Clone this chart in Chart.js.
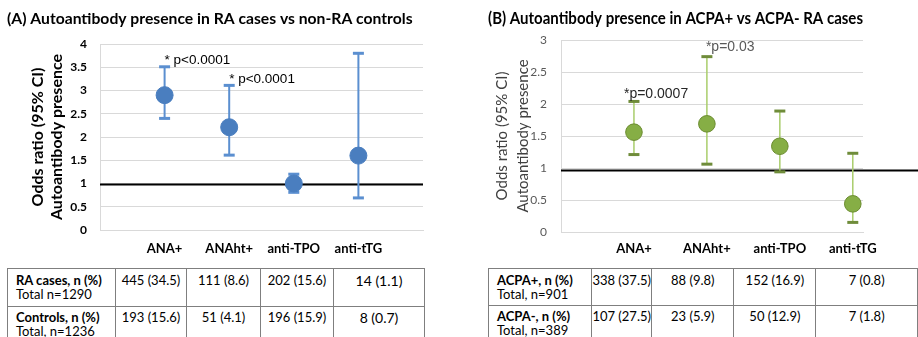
<!DOCTYPE html>
<html><head><meta charset="utf-8">
<script src="https://cdn.jsdelivr.net/npm/chart.js@4"></script>
<style>
html,body{margin:0;padding:0;width:918px;height:337px;overflow:hidden;background:#fff;}
#wa{position:absolute;left:0;top:0;width:460px;height:262px;}
#wb{position:absolute;left:460px;top:0;width:458px;height:262px;}
table{position:absolute;border-collapse:collapse;font-family:Lato,sans-serif;font-size:13px;color:#000;table-layout:fixed;}
td{border:1px solid #7f7f7f;vertical-align:top;padding:4px 0 0 0;line-height:14px;text-align:center;height:32px;white-space:nowrap;}
tr.r2 td{padding-top:3px;}
td.h{text-align:left;padding-left:8px;}
td.h b{font-weight:700;}
#ta{left:7px;top:268px;}
#tb{left:488px;top:268px;}
#ta td.big{font-size:14px;padding-top:5px;}
#ta tr.r2 td.big{padding-top:4px;}
</style></head><body>
<div id="wa"><canvas id="ca"></canvas></div>
<div id="wb"><canvas id="cb"></canvas></div>
<table id="ta"></table>
<table id="tb"></table>
<script>
// ---- data ----
const categories = ['ANA+', 'ANAht+', 'anti-TPO', 'anti-tTG'];

const titleA = '(A) Autoantibody presence in RA cases vs non-RA controls';
const orA   = [2.90, 2.21, 1.00, 1.60];
const lowA  = [2.40, 1.61, 0.81, 0.69];
const highA = [3.51, 3.11, 1.20, 3.80];
const pLabelsA = ['* p<0.0001', '* p<0.0001', '', ''];
const refLineA = 0.98;

const titleB = '(B) Autoantibody presence in ACPA+ vs ACPA- RA cases';
const orB   = [1.56, 1.69, 1.34, 0.44];
const lowB  = [1.21, 1.06, 0.94, 0.15];
const highB = [2.04, 2.74, 1.89, 1.23];
const pLabelsB = ['*p=0.0007', '*p=0.03', '', ''];
const refLineB = 0.96;

const yTitle = ['Odds ratio (95% CI)', 'Autoantibody presence'];

const tableAHeaders = [['RA cases, n (%)', 'Total n=1290'], ['Controls, n (%)', 'Total, n=1236']];
const tableARows = [['445 (34.5)', '111 (8.6)', '202 (15.6)', '14 (1.1)'],
                    ['193 (15.6)', '51 (4.1)', '196 (15.9)', '8 (0.7)']];
const tableBHeaders = [['ACPA+, n (%)', 'Total, n=901'], ['ACPA-, n (%)', 'Total, n=389']];
const tableBRows = [['338 (37.5)', '88 (9.8)', '152 (16.9)', '7 (0.8)'],
                    ['107 (27.5)', '23 (5.9)', '50 (12.9)', '7 (1.8)']];

// ---- tables ----
function buildTable(el, headers, rows, widths, bigLast) {
  const cg = document.createElement('colgroup');
  widths.forEach(w => { const c = document.createElement('col'); c.style.width = w + 'px'; cg.appendChild(c); });
  el.appendChild(cg);
  headers.forEach((h, r) => {
    const tr = document.createElement('tr');
    tr.className = 'r' + (r + 1);
    const th = document.createElement('td'); th.className = 'h';
    const b = document.createElement('b'); b.textContent = h[0];
    th.appendChild(b); th.appendChild(document.createElement('br'));
    th.appendChild(document.createTextNode(h[1]));
    tr.appendChild(th);
    rows[r].forEach((v, i) => {
      const td = document.createElement('td'); td.textContent = v;
      if (bigLast && i === rows[r].length - 1) td.className = 'big';
      tr.appendChild(td);
    });
    el.appendChild(tr);
  });
}
buildTable(document.getElementById('ta'), tableAHeaders, tableARows, [108, 71, 74, 73, 91], true);
buildTable(document.getElementById('tb'), tableBHeaders, tableBRows, [105, 60, 86, 84, 108], false);

// ---- plugins ----
const refLinePlugin = {
  id: 'refLine',
  beforeDatasetsDraw(chart, args, o) {
    const y = chart.scales.y.getPixelForValue(o.value);
    const ctx = chart.ctx, a = chart.chartArea;
    ctx.save();
    ctx.strokeStyle = '#000'; ctx.lineWidth = 2;
    ctx.beginPath(); ctx.moveTo(a.left, y); ctx.lineTo(o.toEdge ? chart.width : a.right, y); ctx.stroke();
    ctx.restore();
  }
};
const annotPlugin = {
  id: 'annot',
  afterDatasetsDraw(chart, args, o) {
    const ctx = chart.ctx, xs = chart.scales.x, ys = chart.scales.y;
    ctx.save();
    ctx.font = o.font; ctx.textAlign = 'left'; ctx.textBaseline = 'middle';
    o.labels.forEach((t, i) => {
      if (!t) return;
      const off = o.offsets[i];
      ctx.fillStyle = o.colors[i];
      ctx.fillText(t, xs.getPixelForValue(i + 1) + off[0], ys.getPixelForValue(o.highs[i]) + off[1]);
    });
    ctx.restore();
  }
};

function makeChart(id, cfg) {
  const datasets = [];
  datasets.push({
    data: cfg.or.map((v, i) => ({x: i + 1, y: v})),
    backgroundColor: cfg.pointFill, borderColor: cfg.pointBorder, borderWidth: 1,
    pointRadius: cfg.pointRadius, pointHoverRadius: cfg.pointRadius, order: 0
  });
  cfg.or.forEach((v, i) => {
    datasets.push({
      data: [{x: i + 1, y: cfg.low[i]}, {x: i + 1, y: cfg.high[i]}],
      showLine: true, borderColor: cfg.whisker, borderWidth: cfg.whiskerWidth,
      pointStyle: 'line', pointRadius: 5.5, pointHoverRadius: 5.5,
      pointBorderColor: cfg.cap, pointBorderWidth: 3, order: 1
    });
  });
  return new Chart(document.getElementById(id), {
    type: 'scatter',
    data: {datasets},
    plugins: [refLinePlugin, annotPlugin],
    options: {
      responsive: true, maintainAspectRatio: false, animation: false,
      events: [],
      layout: {padding: {left: cfg.padLeft, right: cfg.padRight, top: 0, bottom: 0}},
      plugins: {
        legend: {display: false}, tooltip: {enabled: false},
        title: {display: true, text: cfg.title, align: 'start', color: '#000',
                font: {family: 'Lato', weight: 'bold', size: cfg.titleSize, lineHeight: '18px'},
                padding: {top: 10, bottom: cfg.titleBottom}},
        refLine: {value: cfg.ref, toEdge: cfg.toEdge},
        annot: {labels: cfg.pLabels, highs: cfg.high, offsets: cfg.pOffsets, colors: cfg.pColors, font: cfg.pFont}
      },
      scales: {
        x: {
          type: 'linear', min: 0, max: cfg.xMax,
          grid: {display: false, drawTicks: false},
          border: {display: true, color: '#d9d9d9', width: 1},
          ticks: {autoSkip: false, maxRotation: 0, padding: cfg.xPad, color: '#000',
                  font: {family: 'Lato', weight: 'bold', size: 13},
                  callback: v => categories[v - 1] || ''},
          afterBuildTicks: s => { s.ticks = categories.map((c, i) => ({value: i + 1})); },
          afterFit: s => { s.height = cfg.xHeight; }
        },
        y: {
          min: 0, max: cfg.yMax,
          grid: {color: '#d9d9d9', lineWidth: 1, drawTicks: false},
          border: {display: true, color: '#d9d9d9', width: 1},
          ticks: {stepSize: 0.5, padding: cfg.yPad, color: cfg.tickColor,
                  font: {family: 'Lato', weight: cfg.tickWeight, size: 12},
                  callback: v => String(Math.round(v * 10) / 10)},
          title: {display: true, text: yTitle, color: cfg.yTitleColor,
                  font: {family: 'Lato', weight: cfg.yTitleWeight, size: cfg.yTitleSize, lineHeight: cfg.yTitleLH},
                  padding: {top: cfg.yTitlePad, bottom: 0}},
          afterFit: s => { s.width = cfg.yWidth; }
        }
      }
    }
  });
}

makeChart('ca', {
  title: titleA, titleSize: 15.7, or: orA, low: lowA, high: highA, ref: refLineA, toEdge: false,
  pLabels: pLabelsA, pOffsets: [[0, -6.5], [0, -6.5], [0, 0], [0, 0]], pColors: ['#000', '#000', '#000', '#000'],
  pFont: '13.5px "Liberation Sans", Arial, sans-serif',
  pointFill: '#4a7ebf', pointBorder: '#4a7ebf', pointRadius: 8.5,
  whisker: '#5b8fd0', whiskerWidth: 2, cap: '#5b8fd0',
  padLeft: 7, padRight: 37, titleBottom: 16, xMax: 5, xPad: 11, xHeight: 32,
  yMax: 4, yPad: 13, tickColor: '#000', tickWeight: 'bold', yWidth: 93,
  yTitleColor: '#000', yTitleWeight: 'bold', yTitleSize: 16, yTitleLH: '19px', yTitlePad: 21.5
});

makeChart('cb', {
  title: titleB, titleSize: 16.2, or: orB, low: lowB, high: highB, ref: refLineB, toEdge: true,
  pLabels: pLabelsB, pOffsets: [[-10, -7], [-1, -9], [0, 0], [0, 0]], pColors: ['#262626', '#595959', '#000', '#000'],
  pFont: '14px "Liberation Sans", Arial, sans-serif',
  pointFill: '#86ae45', pointBorder: '#6b8c30', pointRadius: 8.3,
  whisker: '#a9cd6b', whiskerWidth: 1.5, cap: '#6f8c3a',
  padLeft: 28, padRight: 55, titleBottom: 12, xMax: 4.14, xPad: 9, xHeight: 30,
  yMax: 3, yPad: 14, tickColor: '#595959', tickWeight: 'normal', yWidth: 73,
  yTitleColor: '#404040', yTitleWeight: 'normal', yTitleSize: 15, yTitleLH: '21px', yTitlePad: 3.5
});
</script>
</body></html>
